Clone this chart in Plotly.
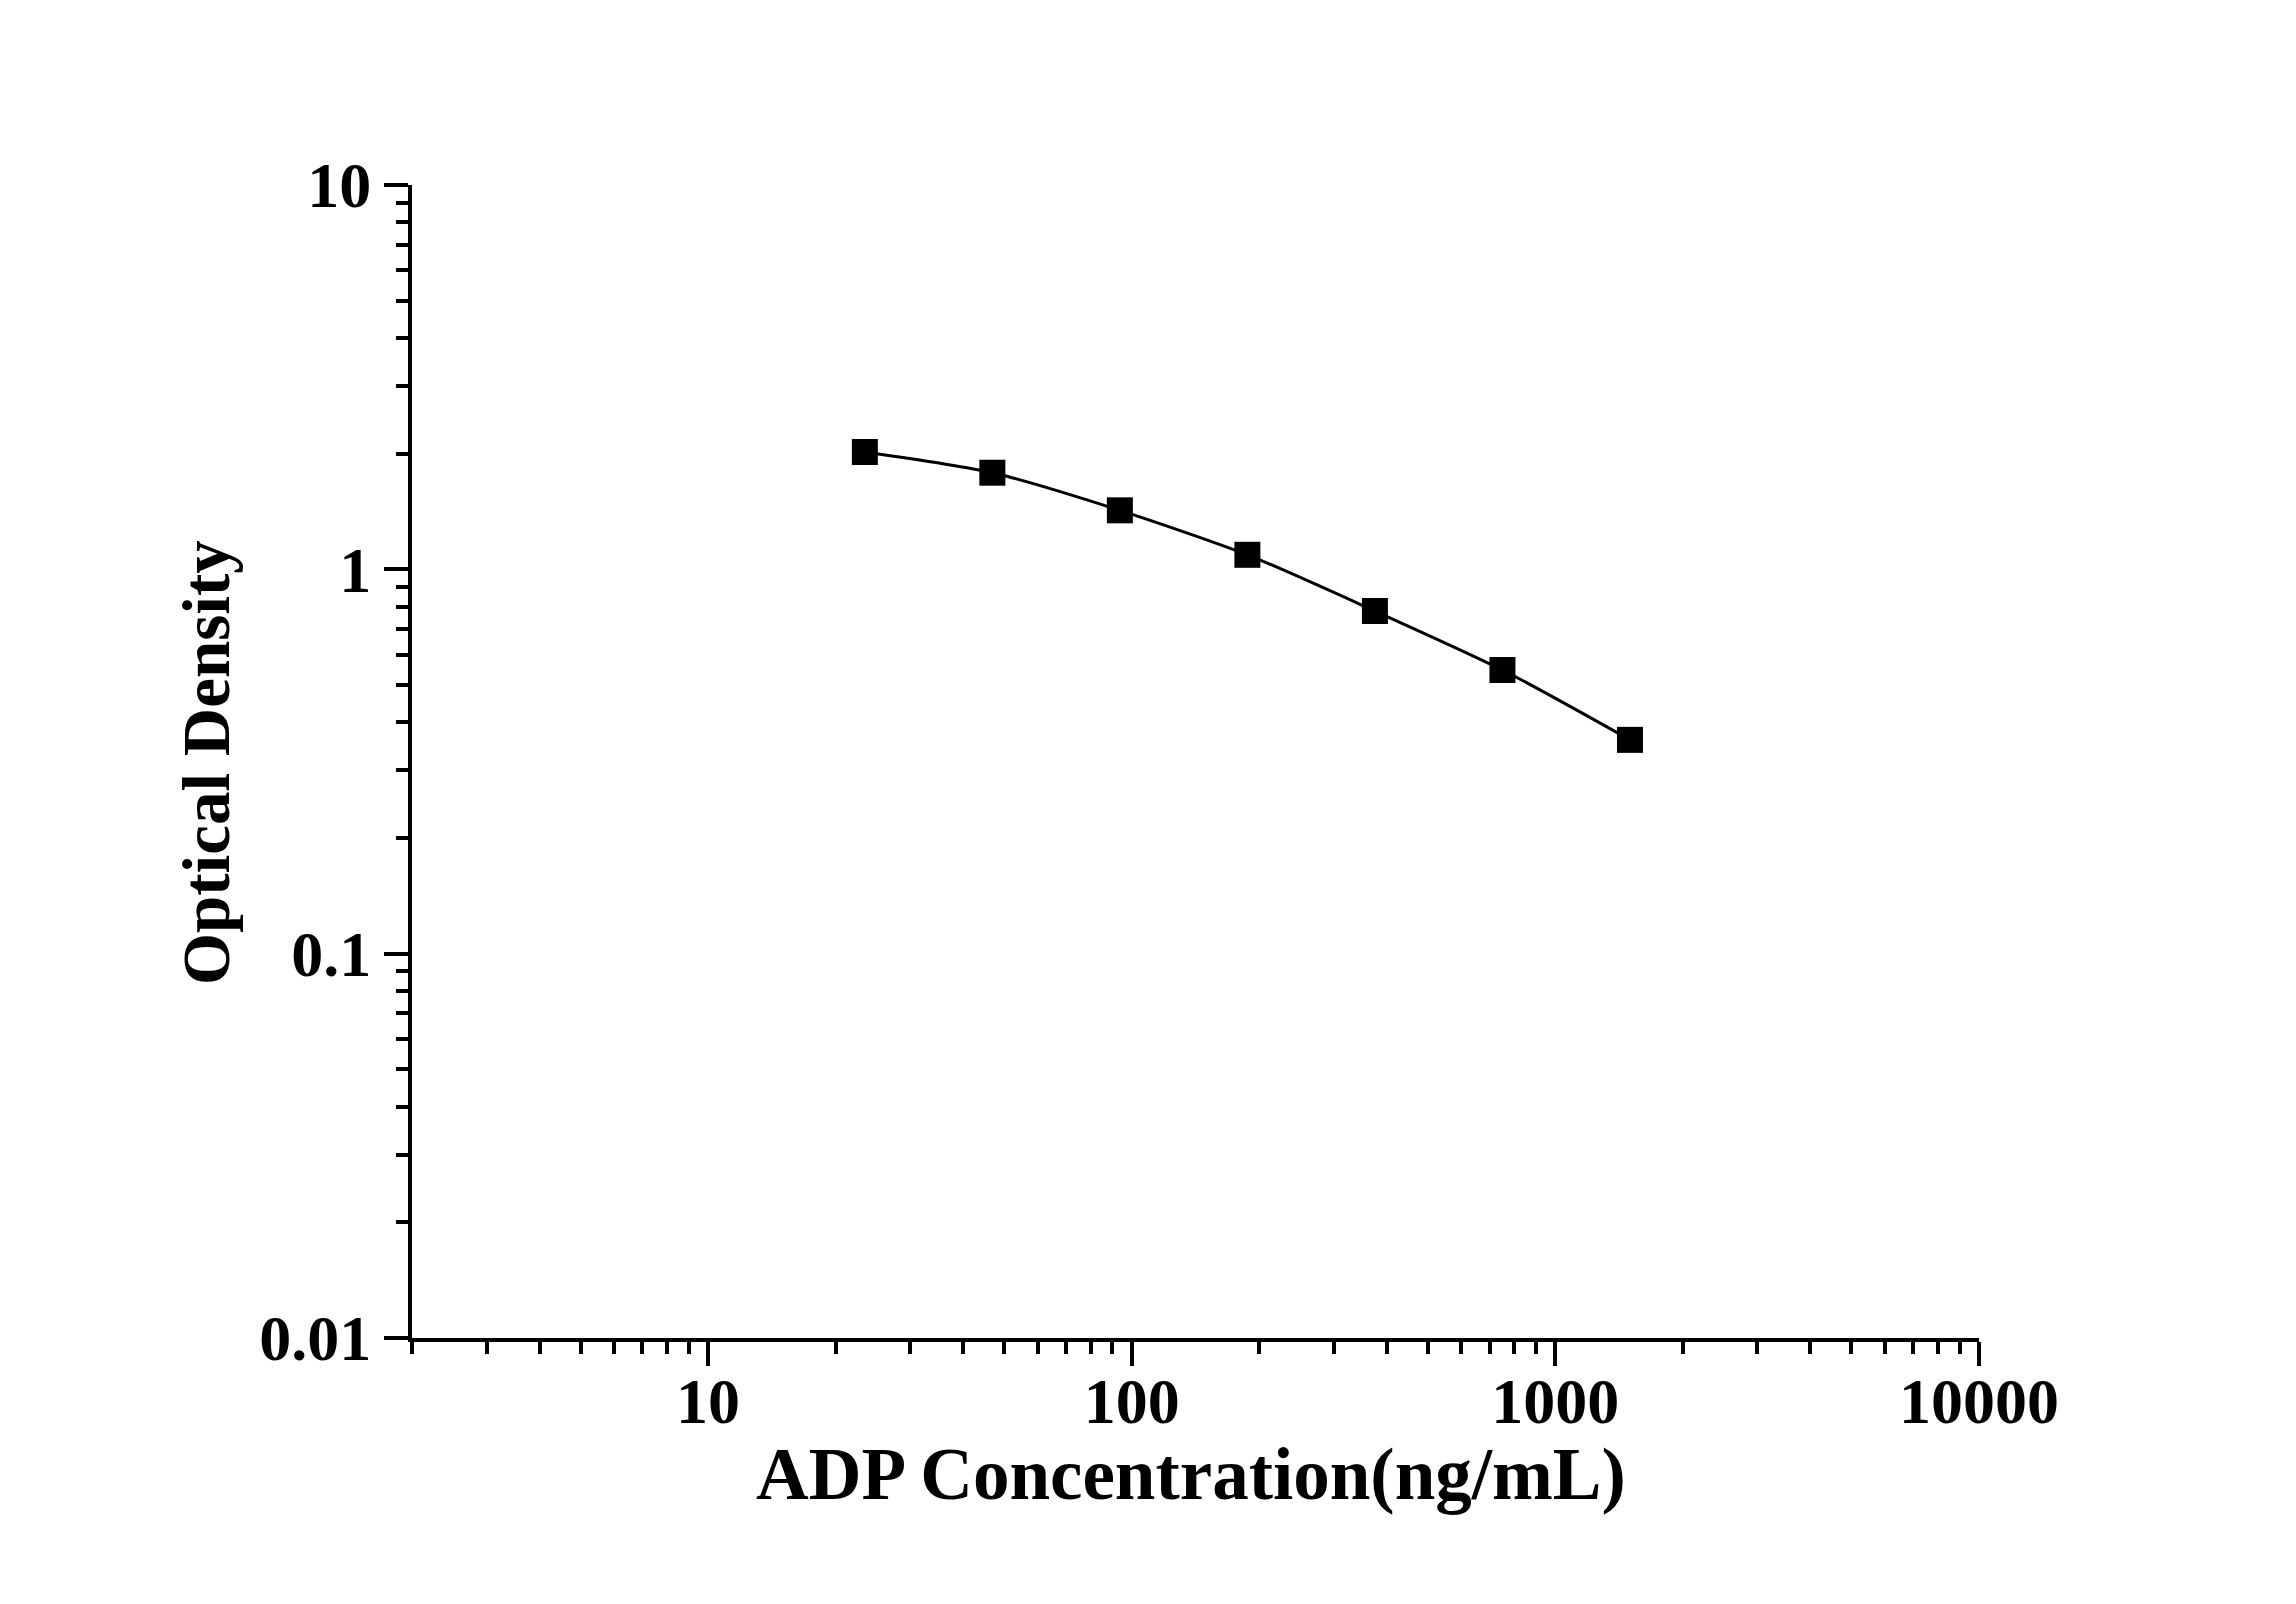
import plotly.graph_objects as go

# standard curve: ADP concentration vs optical density
conc = [23.44, 46.88, 93.75, 187.5, 375, 750, 1500]
od = [2.02, 1.784, 1.424, 1.091, 0.779, 0.547, 0.360]

x_ticks = [10, 100, 1000, 10000]
x_labels = ["10", "100", "1000", "10000"]
y_ticks = [0.01, 0.1, 1, 10]
y_labels = ["0.01", "0.1", "1", "10"]

serif = "Liberation Serif, Times New Roman, serif"

fig = go.Figure()
fig.add_trace(go.Scatter(
  x=conc,
  y=od,
  mode="lines+markers",
  line={"color": "black", "width": 3, "shape": "spline", "smoothing": 0.7},
  marker={"symbol": "square", "size": 26, "color": "black"},
  showlegend=False,
))

axis_common = {
  "showgrid": False,
  "zeroline": False,
  "showline": True,
  "linecolor": "black",
  "linewidth": 4,
  "ticks": "outside",
  "ticklen": 24,
  "tickwidth": 4,
  "tickcolor": "black",
  "tickfont": {"family": serif, "size": 64, "color": "black", "weight": "bold"},
  "minor": {"ticks": "outside", "ticklen": 12, "tickwidth": 4, "tickcolor": "black", "dtick": "D1", "showgrid": False},
}

fig.update_layout(
  width=2296,
  height=1604,
  paper_bgcolor="white",
  plot_bgcolor="white",
  margin={"l": 404, "r": 325, "t": 177, "b": 274},
  xaxis=dict(
    axis_common,
    type="log",
    range=[0.30103, 4],
    tickvals=x_ticks,
    ticktext=x_labels,
    ticklabelstandoff=-20,
  ),
  yaxis=dict(
    axis_common,
    type="log",
    range=[-2, 1],
    tickvals=y_ticks,
    ticktext=y_labels,
  ),
  annotations=[
    dict(text="ADP Concentration(ng/mL)", xref="paper", yref="paper",
         x=0.497, y=-0.118, xanchor="center", yanchor="middle", showarrow=False,
         font={"family": serif, "size": 73, "color": "black", "weight": "bold"}),
    dict(text="Optical Density", xref="paper", yref="paper", textangle=-90,
         x=-0.1314, y=0.4987, xanchor="center", yanchor="middle", showarrow=False,
         font={"family": serif, "size": 67, "color": "black", "weight": "bold"}),
  ],
)

fig.write_html("out.html")
